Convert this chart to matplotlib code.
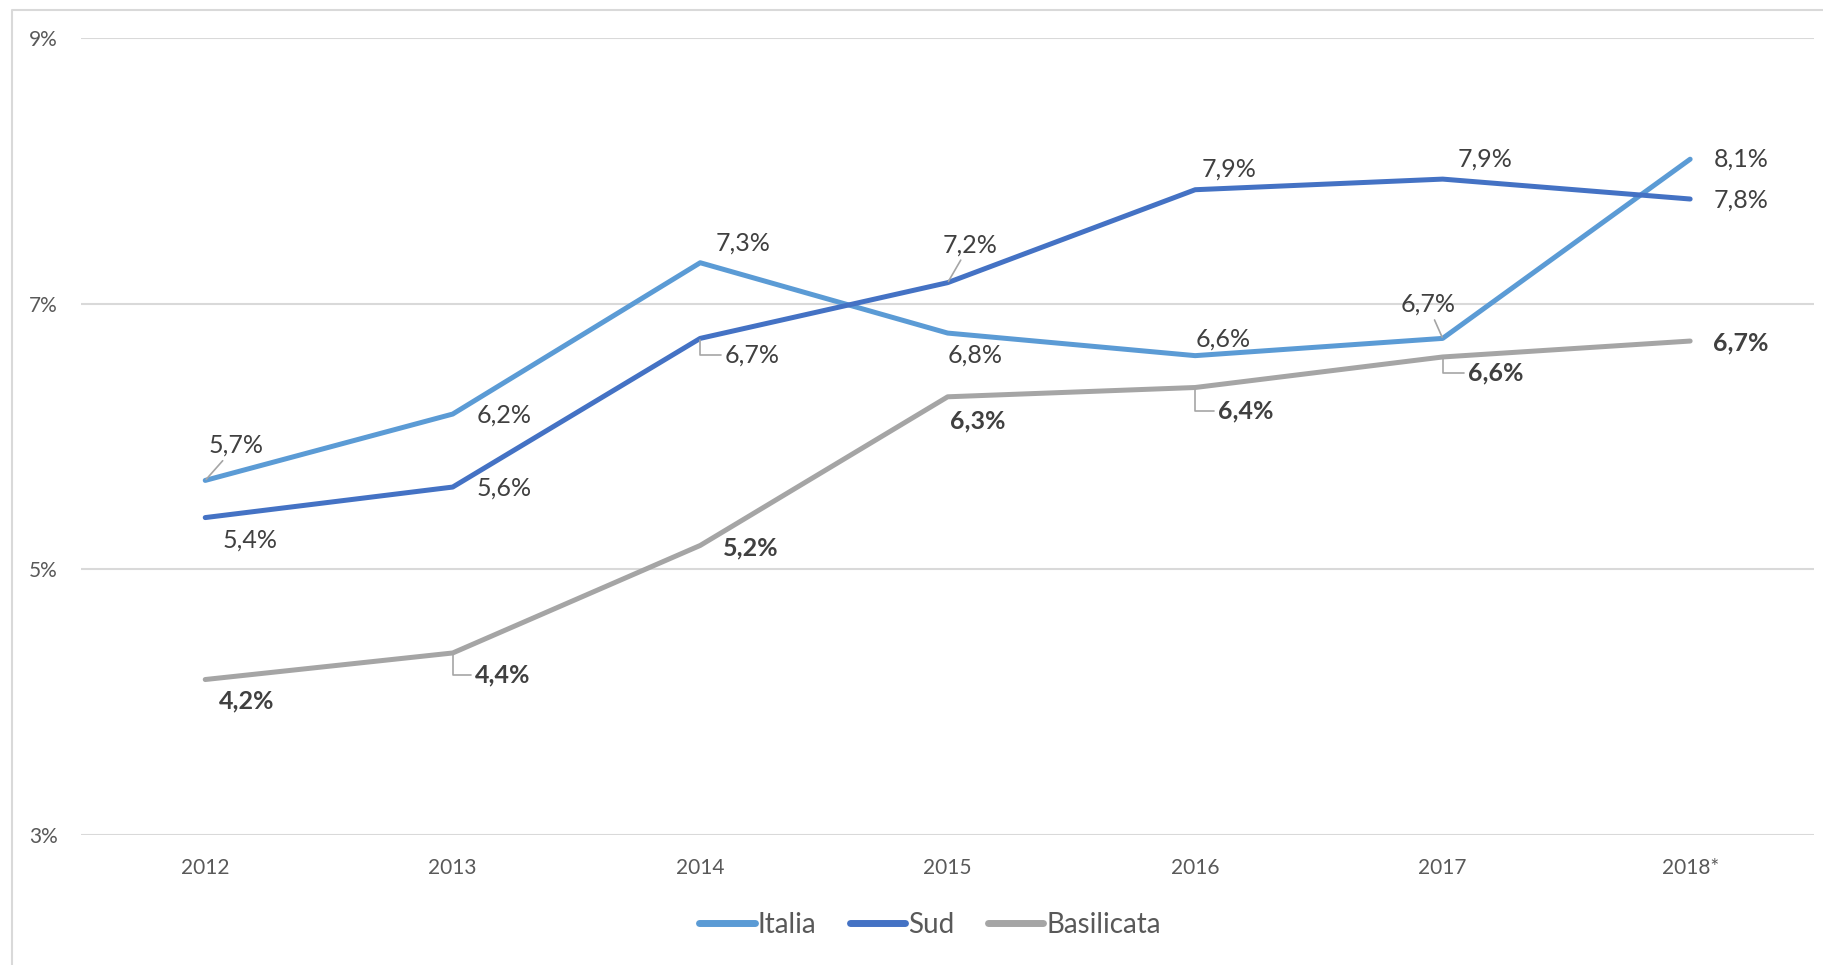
import matplotlib.pyplot as plt
from matplotlib.lines import Line2D

# Data
years = ['2012', '2013', '2014', '2015', '2016', '2017', '2018*']
italia = [5.67, 6.17, 7.31, 6.78, 6.61, 6.74, 8.09]
sud = [5.39, 5.62, 6.74, 7.16, 7.86, 7.94, 7.79]
basilicata = [4.17, 4.37, 5.18, 6.30, 6.37, 6.60, 6.72]
y_ticks = [3, 5, 7, 9]

# label offsets (pixels, x right / y up) and leader style
off_italia = [(31, 35), (51, -1), (43, 20), (27, -22), (28, 17), (-15, 34), (51, 0)]
off_sud = [(45, -22), (51, -1), (52, -17), (22, 38), (34, 21), (42, 20), (51, -1)]
off_basil = [(41, -21), (50, -22), (51, -2), (30, -24), (51, -23), (53, -16), (51, -2)]
lead_italia = ['line', None, None, None, None, 'line', None]
lead_sud = [None, None, 'L', 'line', None, None, None]
lead_basil = [None, 'L', None, None, 'L', 'L', None]

plt.rcParams['font.family'] = ['Lato', 'DejaVu Sans']

fig = plt.figure(figsize=(18.23, 9.65), dpi=100)
ax = fig.add_axes([0.0447, 0.1349, 0.9503, 0.8253])

# chart area border: only top and left edges visible in the picture
fig.lines.append(Line2D([12 / 1823, 12 / 1823, 1.0], [0.0, 1 - 10 / 965, 1 - 10 / 965],
                        transform=fig.transFigure, color='#D9D9D9', lw=1.5))

series = [
    ('Italia', italia, '#5B9BD5', off_italia, lead_italia, 'normal'),
    ('Sud', sud, '#4472C4', off_sud, lead_sud, 'normal'),
    ('Basilicata', basilicata, '#A5A5A5', off_basil, lead_basil, 'bold'),
]

x = list(range(len(years)))
for name, vals, col, offs, leads, weight in series:
    ax.plot(x, vals, color=col, lw=3.6, solid_capstyle='round',
            solid_joinstyle='round', label=name, zorder=3)
    for xi, v, (dx, dy), ld in zip(x, vals, offs, leads):
        txt = ('%.1f' % v).replace('.', ',') + '%'
        kw = {}
        if ld == 'line':
            kw['arrowprops'] = dict(arrowstyle='-', color='#A5A5A5', lw=1.2,
                                    shrinkA=1, shrinkB=1)
        elif ld == 'L':
            kw['arrowprops'] = dict(arrowstyle='-', color='#A5A5A5', lw=1.2,
                                    shrinkA=1, shrinkB=1,
                                    connectionstyle='angle,angleA=0,angleB=90,rad=0')
        ax.annotate(txt, (xi, v), xytext=(dx, dy), textcoords='offset pixels',
                    ha='center', va='center', fontsize=18, color='#404040',
                    fontweight=weight, zorder=4, **kw)

ax.set_xlim(-0.5, 6.5)
ax.set_ylim(3, 9)
ax.set_yticks(y_ticks)
ax.set_yticklabels(['%d%%' % t for t in y_ticks])
ax.set_xticks(x)
ax.set_xticklabels(years)
ax.grid(axis='y', color='#D9D9D9', lw=1.5)
ax.set_axisbelow(True)
for s in ax.spines.values():
    s.set_visible(False)
ax.tick_params(axis='both', length=0, labelsize=15, colors='#595959')
ax.tick_params(axis='y', pad=17)
ax.tick_params(axis='x', pad=17)

leg = fig.legend(loc='center', bbox_to_anchor=(930 / 1823, 1 - 925 / 965),
                 ncol=3, frameon=False, fontsize=20, handlelength=2.0,
                 handletextpad=0.1, columnspacing=1.2, labelcolor='#595959')
for h in leg.get_lines():
    h.set_linewidth(5)

fig.savefig('out.png', dpi=100)
